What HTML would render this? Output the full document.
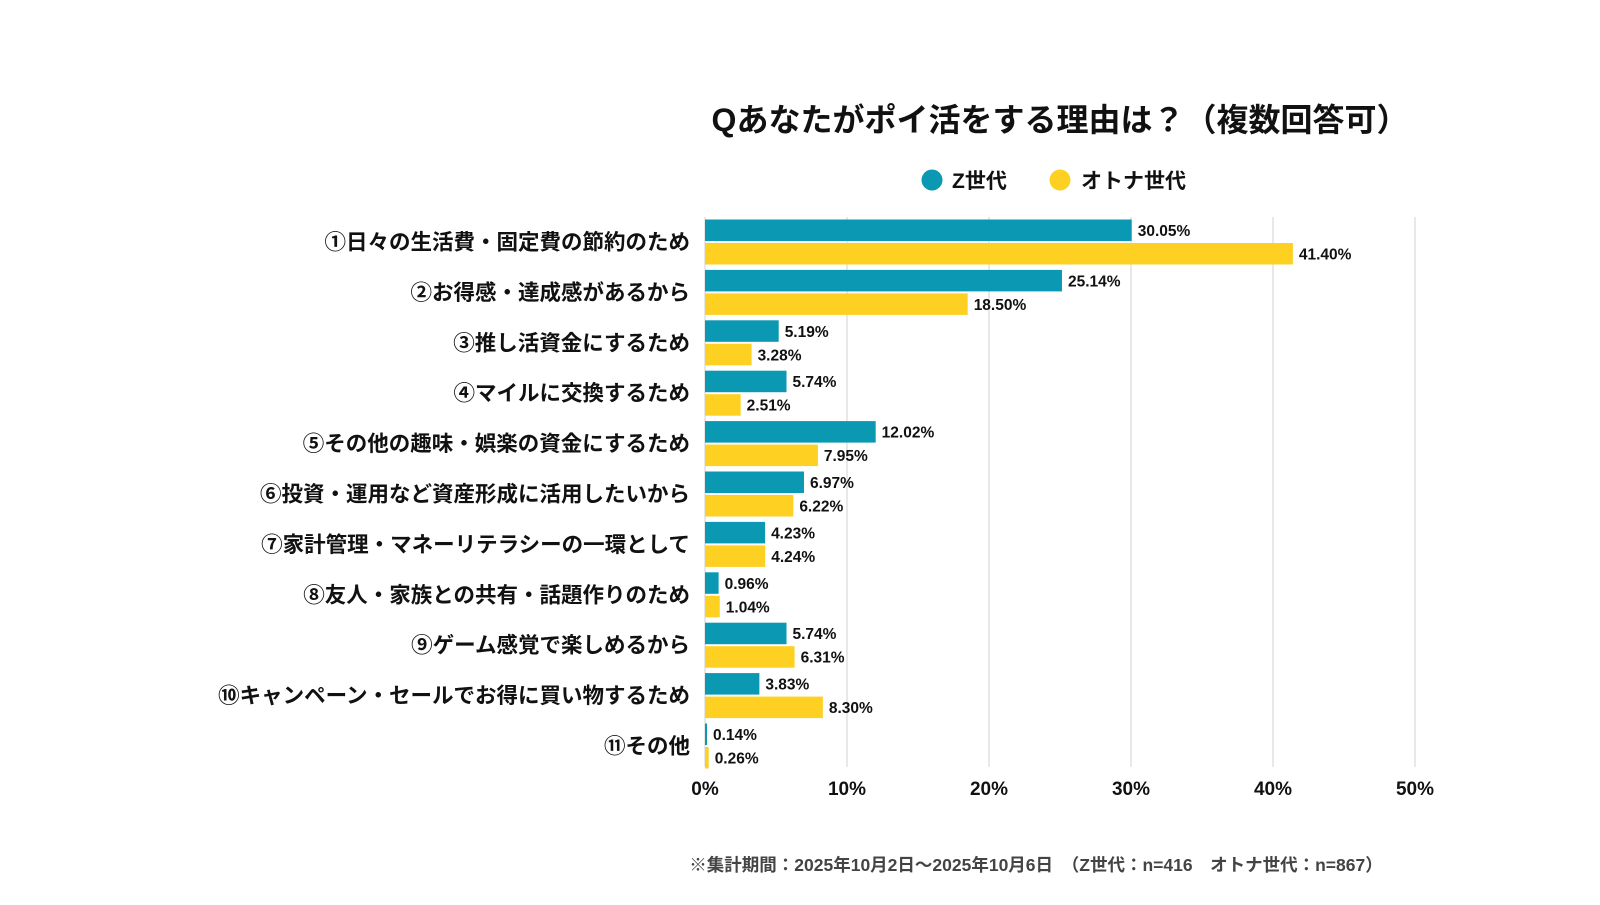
<!DOCTYPE html>
<html><head><meta charset="utf-8"><style>
body{margin:0;background:#fff;}
svg text{font-family:"Liberation Sans","Noto Sans CJK JP",sans-serif;font-weight:bold;fill:#111;}
</style></head><body>
<svg id="chart" width="1600" height="900" xmlns="http://www.w3.org/2000/svg">
<text x="1060" y="131" font-size="32" text-anchor="middle">Qあなたがポイ活をする理由は？（複数回答可）</text>
<g>
<circle cx="932" cy="180" r="10.5" fill="#0a98b2"/>
<text x="952" y="188" font-size="21">Z世代</text>
<circle cx="1060" cy="180" r="10.5" fill="#fdd022"/>
<text x="1081" y="188" font-size="21">オトナ世代</text>
</g>
<g id="grid"></g><g id="bars"></g>
<text x="1036" y="871" font-size="17.5" text-anchor="middle" style="fill:#444">※集計期間：2025年10月2日〜2025年10月6日　（Z世代：n=416　オトナ世代：n=867）</text>
</svg>
<script>
const categories=["①日々の生活費・固定費の節約のため","②お得感・達成感があるから","③推し活資金にするため","④マイルに交換するため","⑤その他の趣味・娯楽の資金にするため","⑥投資・運用など資産形成に活用したいから","⑦家計管理・マネーリテラシーの一環として","⑧友人・家族との共有・話題作りのため","⑨ゲーム感覚で楽しめるから","⑩キャンペーン・セールでお得に買い物するため","⑪その他"];
const zValues=[30.05,25.14,5.19,5.74,12.02,6.97,4.23,0.96,5.74,3.83,0.14];
const adultValues=[41.40,18.50,3.28,2.51,7.95,6.22,4.24,1.04,6.31,8.30,0.26];
const ticks=[0,10,20,30,40,50];
const NS="http://www.w3.org/2000/svg";
const x=v=>705+v*14.2;
const rowY=i=>219.5+i*50.4;
function mk(tag,attrs,parent,txt){const e=document.createElementNS(NS,tag);for(const k in attrs)e.setAttribute(k,attrs[k]);if(txt!==undefined)e.textContent=txt;parent.appendChild(e);return e;}
const grid=document.getElementById('grid'),bars=document.getElementById('bars');
ticks.forEach(t=>{
  const l=mk('line',{x1:x(t),x2:x(t),y1:217,y2:767,stroke:'#d9d9d9','stroke-width':1.2},grid);
  
  
  const tx=mk('text',{x:x(t),y:795,'font-size':19,'text-anchor':'middle'},grid,t+'%');
  
  
});
categories.forEach((c,i)=>{
  const y=rowY(i);
  const lab=mk('text',{x:690,y:y+30,'font-size':21.5,'text-anchor':'end'},bars,c);
  
  
  [[zValues[i],'#0a98b2',y,'z'],[adultValues[i],'#fdd022',y+23.5,'adult']].forEach(([v,col,by,s])=>{
    const r=mk('rect',{x:x(0),y:by,width:Math.max(x(v)-x(0),1.5),height:21.5,fill:col},bars);
    
    
    const t=mk('text',{x:x(v)+6,y:by+16.5,'font-size':15.5},bars,v.toFixed(2)+'%');
    
    
  });
});
</script>
</body></html>
